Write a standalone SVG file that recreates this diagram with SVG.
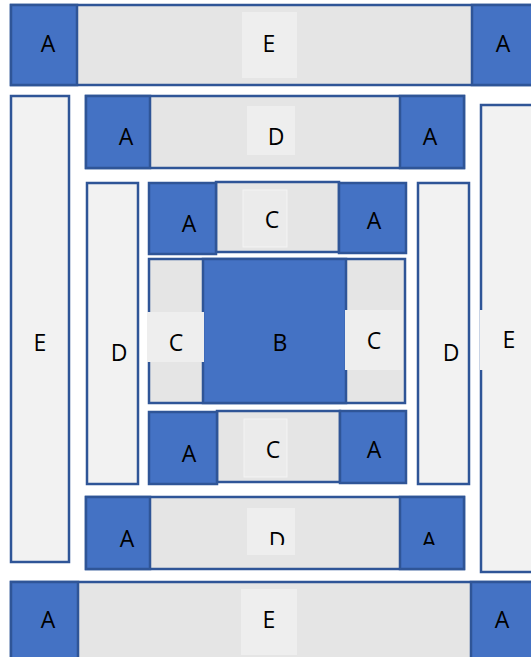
<svg xmlns="http://www.w3.org/2000/svg" width="531" height="657" viewBox="0 0 531 657">
<style>
.a{fill:#4472C4;stroke:#2F5597;stroke-width:2.5}
.g{fill:#E5E5E5;stroke:#2F5597;stroke-width:2.5}
.v{fill:#F2F2F2;stroke:#2F5597;stroke-width:2.5}
.lb{fill:#EEEEEE}
.lc{fill:#EBEBEB;stroke:#F4F4F4;stroke-width:1}
text{font-family:"Open Sans","Liberation Sans",sans-serif;font-size:23px;fill:#000;text-anchor:middle}
</style>
<defs>
<clipPath id="cut"><rect x="0" y="0" width="531" height="545"/></clipPath>
</defs>
<rect width="531" height="657" fill="#FFFFFF"/>

<g id="top-row">
<rect class="g" x="11" y="5" width="540" height="80"/>
<rect class="lb" x="242" y="12" width="55" height="66"/>
<rect class="a" x="11" y="5" width="66" height="80"/>
<rect class="a" x="472" y="5" width="80" height="80"/>
<text x="48" y="52">A</text><text x="269" y="52">E</text><text x="503" y="52">A</text>
</g>

<g id="top-d-row">
<rect class="g" x="86" y="96" width="378" height="72"/>
<rect class="lb" x="247" y="106" width="48" height="49"/>
<rect class="a" x="86" y="96" width="64" height="72"/>
<rect class="a" x="400" y="96" width="64" height="72"/>
<text x="126" y="145">A</text><text x="276" y="145">D</text><text x="430" y="145">A</text>
</g>

<g id="left-e">
<rect class="v" x="11" y="96" width="58" height="466"/>
<text x="40" y="351">E</text>
</g>

<g id="right-e">
<rect class="v" x="481" y="105" width="60" height="467"/>
<rect x="480" y="310" width="10" height="60" fill="#F2F2F2"/>
<text x="509" y="348">E</text>
</g>

<g id="left-d">
<rect class="v" x="87" y="183" width="51" height="301"/>
<text x="119" y="361">D</text>
</g>

<g id="right-d">
<rect class="v" x="418" y="183" width="51" height="301"/>
<text x="451" y="361">D</text>
</g>

<g id="top-c-row">
<rect class="g" x="216" y="182" width="123" height="70"/>
<rect class="lc" x="243" y="190" width="44" height="57"/>
<rect class="a" x="149" y="183" width="67" height="71"/>
<rect class="a" x="339" y="183" width="67" height="70"/>
<text x="189" y="232">A</text><text x="272" y="228">C</text><text x="374" y="229">A</text>
</g>

<g id="center-row">
<rect class="g" x="149" y="259" width="256" height="144"/>
<rect class="a" x="203" y="259" width="143" height="144"/>
<rect class="lb" x="147" y="312" width="57" height="50"/>
<rect class="lb" x="345" y="310" width="58" height="60"/>
<text x="176" y="351">C</text><text x="280" y="351">B</text><text x="374" y="349">C</text>
</g>

<g id="bottom-c-row">
<rect class="g" x="217" y="411" width="123" height="71"/>
<rect class="lc" x="244" y="419" width="43" height="58"/>
<rect class="a" x="149" y="412" width="68" height="72"/>
<rect class="a" x="340" y="411" width="66" height="72"/>
<text x="189" y="462">A</text><text x="273" y="458">C</text><text x="374" y="458">A</text>
</g>

<g id="bottom-d-row">
<rect class="g" x="86" y="497" width="378" height="72"/>
<rect class="lb" x="247" y="508" width="48" height="47"/>
<rect class="a" x="86" y="497" width="64" height="72"/>
<rect class="a" x="400" y="497" width="64" height="72"/>
<text x="127" y="547">A</text>
<g clip-path="url(#cut)"><text x="277" y="549">D</text><text x="429" y="549">A</text></g>
</g>

<g id="bottom-row">
<rect class="g" x="11" y="582" width="540" height="90"/>
<rect class="lb" x="241" y="589" width="56" height="66"/>
<rect class="a" x="11" y="582" width="67" height="90"/>
<rect class="a" x="471" y="582" width="80" height="90"/>
<text x="48" y="628">A</text><text x="269" y="628">E</text><text x="502" y="628">A</text>
</g>

<g id="connectors"></g>
</svg>
